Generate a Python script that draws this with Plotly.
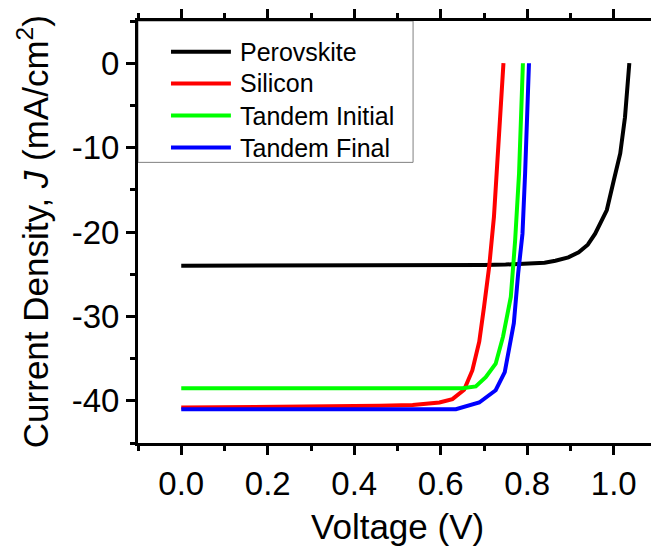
import plotly.graph_objects as go

# ---- data ----
series_names = ["Perovskite", "Silicon", "Tandem Initial", "Tandem Final"]
series_colors = ["#000000", "#FF0000", "#00FF00", "#0000FF"]

perovskite_v = [0, 0.1, 0.2, 0.3, 0.4, 0.5, 0.6, 0.7, 0.75, 0.804, 0.84, 0.865, 0.895, 0.919, 0.94, 0.957, 0.984, 1.0, 1.015, 1.026, 1.032, 1.036]
perovskite_j = [-24.0, -24.0, -24.0, -24.0, -24.0, -24.0, -23.95, -23.9, -23.85, -23.8, -23.65, -23.4, -23.0, -22.4, -21.5, -20.2, -17.4, -13.9, -10.7, -6.4, -2.8, 0]

silicon_v = [0, 0.2, 0.4, 0.459, 0.535, 0.597, 0.627, 0.654, 0.673, 0.689, 0.700, 0.712, 0.723, 0.735, 0.742, 0.745]
silicon_j = [-40.8, -40.75, -40.65, -40.6, -40.5, -40.2, -39.8, -38.7, -36.4, -33.0, -28.9, -24.1, -18.2, -9.1, -2.8, 0]

tandem_init_v = [0, 0.3, 0.6, 0.650, 0.681, 0.704, 0.727, 0.744, 0.762, 0.772, 0.781, 0.787, 0.790]
tandem_init_j = [-38.5, -38.5, -38.5, -38.5, -38.3, -37.2, -35.6, -32.4, -27.7, -21.0, -13.1, -5.2, 0]

tandem_final_v = [0, 0.3, 0.6, 0.635, 0.689, 0.727, 0.748, 0.769, 0.779, 0.789, 0.795, 0.800, 0.804]
tandem_final_j = [-41.0, -41.0, -41.0, -41.0, -40.2, -38.75, -36.6, -30.8, -24.9, -20.2, -13.1, -5.2, 0]

x_tick_vals = [0.0, 0.2, 0.4, 0.6, 0.8, 1.0]
x_tick_text = ["0.0", "0.2", "0.4", "0.6", "0.8", "1.0"]
y_tick_vals = [0, -10, -20, -30, -40]
y_tick_text = ["0", "-10", "-20", "-30", "-40"]

x_title = "Voltage (V)"
y_title = "Current Density, <i>J</i> (mA/cm<sup>2</sup>)"

series_v = [perovskite_v, silicon_v, tandem_init_v, tandem_final_v]
series_j = [perovskite_j, silicon_j, tandem_init_j, tandem_final_j]

FONT = "Liberation Sans, Arial, sans-serif"

fig = go.Figure()
for name, color, v, j in zip(series_names, series_colors, series_v, series_j):
    fig.add_trace(go.Scatter(x=v, y=j, mode="lines", name=name,
                             line=dict(color=color, width=4), showlegend=False))

# custom legend (box, line samples, labels)
leg_rows = [0.927, 0.852, 0.776, 0.700]
shapes = [dict(type="rect", xref="paper", yref="paper", x0=0, x1=0.53, y0=0.665, y1=1,
               line=dict(color="#808080", width=1), fillcolor="rgba(0,0,0,0)", layer="below"),
          dict(type="line", xref="paper", yref="paper", x0=1, x1=1, y0=0, y1=1,
               line=dict(color="#808080", width=1))]
annotations = []
for name, color, yy in zip(series_names, series_colors, leg_rows):
    shapes.append(dict(type="line", xref="paper", yref="paper", x0=0.0636, x1=0.179, y0=yy, y1=yy,
                       line=dict(color=color, width=4)))
    annotations.append(dict(xref="paper", yref="paper", x=0.193, y=yy, text=name, showarrow=False,
                            xanchor="left", yanchor="middle", font=dict(family=FONT, size=25, color="black")))

# axis titles as annotations for exact placement
annotations.append(dict(xref="paper", yref="paper", x=0.5, y=-0.198, text=x_title, showarrow=False,
                        xanchor="center", yanchor="middle", font=dict(family=FONT, size=35, color="black")))
annotations.append(dict(xref="paper", yref="paper", x=-0.202, y=0.5, text=y_title, showarrow=False,
                        textangle=-90, xanchor="center", yanchor="middle",
                        font=dict(family=FONT, size=35, color="black")))

# the page body has an 8px default margin, so the figure is sized to fill the rest of the window
fig.update_layout(
    width=651, height=539,
    margin=dict(l=130, r=2, t=12.5, b=103.5),
    plot_bgcolor="white", paper_bgcolor="white",
    font=dict(family=FONT, color="black"),
    shapes=shapes, annotations=annotations,
    showlegend=False,
)
fig.update_xaxes(
    range=[-0.1, 1.1], tickmode="array", tickvals=x_tick_vals, ticktext=x_tick_text,
    showline=True, linecolor="black", linewidth=3, mirror="allticks",
    ticks="outside", ticklen=9, tickwidth=2.5, tickcolor="black",
    minor=dict(tickmode="linear", tick0=0, dtick=0.1, ticks="outside", ticklen=5, tickwidth=2.5, tickcolor="black"),
    showgrid=False, zeroline=False, automargin=False,
    tickfont=dict(size=33, family=FONT),
)
fig.update_yaxes(
    range=[-45, 5], tickmode="array", tickvals=y_tick_vals, ticktext=y_tick_text,
    showline=True, linecolor="black", linewidth=3, mirror=False,
    ticks="outside", ticklen=9, tickwidth=2.5, tickcolor="black",
    minor=dict(tickmode="linear", tick0=-45, dtick=5, ticks="outside", ticklen=5, tickwidth=2.5, tickcolor="black"),
    showgrid=False, zeroline=False, automargin=False,
    tickfont=dict(size=33, family=FONT),
)

fig.write_html("out.html")
